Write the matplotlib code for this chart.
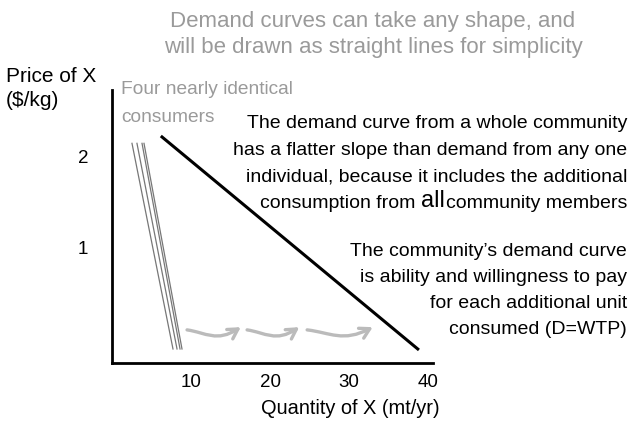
import matplotlib.pyplot as plt
from matplotlib.patches import FancyArrowPatch
from matplotlib.path import Path

plt.rcParams['font.family'] = ['Liberation Sans', 'DejaVu Sans']

# data
x_ticks = [10, 20, 30, 40]
y_ticks = [1, 2]
community_q = [6.33, 38.7]
community_p = [2.22, -0.11]
individual_q_start = [2.53, 3.16, 3.8, 4.05]
individual_q_end = [7.72, 8.23, 8.61, 8.86]
individual_p = [2.15, -0.11]
arrow_starts = [9.5, 17.1, 24.7]
arrow_ends = [16.3, 23.7, 33.0]
arrow_p = 0.1

W, H = 631, 421
fig = plt.figure(figsize=(W / 100, H / 100), dpi=100)
ax = fig.add_axes([112 / W, (H - 363) / H, 321 / W, 273 / H])
ax.set_xlim(0, 40.63)
ax.set_ylim(-0.264, 2.736)

for s in ['top', 'right']:
    ax.spines[s].set_visible(False)
for s in ['left', 'bottom']:
    ax.spines[s].set_linewidth(2)
ax.set_xticks(x_ticks)
ax.set_yticks(y_ticks)
ax.tick_params(length=0, labelsize=13.5)
ax.tick_params(axis='y', pad=17)
ax.tick_params(axis='x', pad=8)

gray = '#9a9a9a'

# individual demand curves
for qs, qe in zip(individual_q_start, individual_q_end):
    ax.plot([qs, qe], individual_p, color='#777777', lw=0.9)

# community demand
ax.plot(community_q, community_p, color='black', lw=2.2)

# shift arrows (tilde shaped)
for a, b in zip(arrow_starts, arrow_ends):
    L = b - a
    path = Path([(a, arrow_p), (a + 0.35 * L, arrow_p - 0.03),
                 (a + 0.55 * L, arrow_p - 0.14), (b, arrow_p + 0.03)],
                [Path.MOVETO, Path.CURVE4, Path.CURVE4, Path.CURVE4])
    ax.add_patch(FancyArrowPatch(path=path, transform=ax.transData,
                                 arrowstyle='->,head_length=7,head_width=4',
                                 color='#bbbbbb', lw=2.4))


def ftext(x, y, s, **kw):
    return fig.text(x / W, 1 - y / H, s, va='center', **kw)


ftext(373, 21, 'Demand curves can take any shape, and', ha='center', color=gray, fontsize=16)
ftext(373, 47, 'will be drawn as straight lines for simplicity', ha='center', color=gray, fontsize=16)

ftext(6, 77, 'Price of X', ha='left', fontsize=15)
ftext(6, 101, '($/kg)', ha='left', fontsize=15)
ftext(121, 89, 'Four nearly identical', ha='left', color=gray, fontsize=13.8)
ftext(121, 118, 'consumers', ha='left', color=gray, fontsize=13.8)
ftext(350, 408, 'Quantity of X (mt/yr)', ha='center', fontsize=14.4)

right = 627
fs = 14
block1 = ['The demand curve from a whole community',
          'has a flatter slope than demand from any one',
          'individual, because it includes the additional']
for i, line in enumerate(block1):
    ftext(right, 124 + 26.4 * i, line, ha='right', fontsize=fs)

# last line with larger "all"
fig.canvas.draw()
r = fig.canvas.get_renderer()
t1 = ftext(right, 203, 'community members', ha='right', fontsize=fs)
w1 = t1.get_window_extent(r).width
t2 = ftext(right - w1 - 1, 201, 'all', ha='right', fontsize=17)
w2 = t2.get_window_extent(r).width
ftext(right - w1 - w2 - 1, 203, 'consumption from ', ha='right', fontsize=fs)

block2 = ['The community\u2019s demand curve',
          'is ability and willingness to pay',
          'for each additional unit',
          'consumed (D=WTP)']
for i, line in enumerate(block2):
    ftext(right, 251 + 26.3 * i, line, ha='right', fontsize=fs)

fig.savefig('out.png', dpi=100)
